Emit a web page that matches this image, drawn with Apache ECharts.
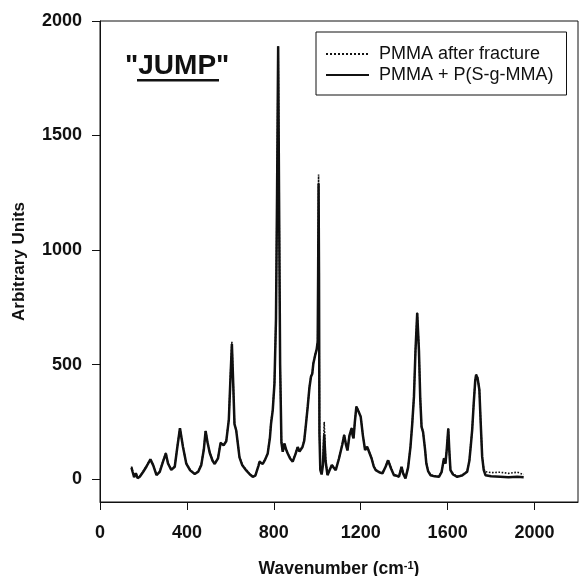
<!DOCTYPE html>
<html>
<head>
<meta charset="utf-8">
<script src="https://cdn.jsdelivr.net/npm/echarts@6/dist/echarts.min.js"></script>
<style>
html,body{margin:0;padding:0;background:#fff;}
#chart{width:579px;height:576px;}
</style>
</head>
<body>
<div id="chart"></div>
<script>
// Wavenumber positions (cm-1)
var wavenumbers = [145,150,157,165,173,183,199,214,232,245,260,275,290,303,313,328,344,356,368,382,397,415,436,452,466,478,486,495,505,518,528,543,555,569,581,593,600,607,613,619,627,635,642,655,673,690,703,715,722,730,734,742,749,760,772,782,787,795,803,810,815,820,824,829,835,841,849,856,864,875,887,900,910,918,925,932,940,948,956,964,971,977,982,990,997,1002,1004,1006,1008,1010,1014,1020,1026,1032,1038,1047,1057,1067,1076,1085,1100,1115,1124,1132,1139,1148,1158,1163,1167,1173,1180,1190,1200,1210,1220,1230,1239,1250,1260,1269,1285,1300,1315,1326,1340,1353,1365,1376,1388,1395,1406,1418,1429,1437,1445,1452,1460,1468,1474,1480,1487,1491,1496,1502,1510,1521,1540,1560,1572,1583,1590,1596,1603,1608,1613,1625,1644,1665,1690,1700,1707,1713,1720,1727,1731,1738,1746,1752,1759,1766,1774,1800,1842,1880,1920,1950];
// PMMA + P(S-g-MMA) (solid)
var blendValues = [50,32,8,26,4,10,32,55,86,60,17,32,76,112,68,40,54,140,222,140,68,38,22,32,61,130,210,160,115,80,66,90,158,148,165,260,430,590,420,240,212,150,95,60,38,20,10,15,22,60,76,68,66,85,112,180,240,300,418,700,1250,1890,1250,500,160,119,155,130,112,90,76,110,140,120,118,140,168,240,316,400,447,460,505,540,565,600,900,1290,900,200,40,20,60,195,80,17,40,61,50,39,90,150,192,150,125,190,222,190,178,250,316,295,272,190,127,140,148,90,55,39,30,25,55,82,45,17,15,10,54,25,3,50,141,240,360,560,725,560,350,228,205,200,130,68,35,17,12,10,30,90,68,130,220,120,39,20,10,15,32,80,150,215,330,430,455,440,390,250,97,40,17,12,10,8,10,8];
// PMMA after fracture (dotted)
var fractureValues = [55,34,10,28,6,12,34,57,88,62,19,34,78,115,70,42,56,142,225,142,70,40,24,34,63,132,212,162,117,82,68,92,160,150,167,262,440,600,425,242,214,152,97,62,40,22,12,17,24,62,78,70,68,87,114,185,250,305,420,705,1255,1890,1255,505,162,121,157,132,114,92,78,112,142,122,120,142,170,242,318,402,449,462,507,542,567,602,920,1330,920,210,45,25,70,250,90,20,42,63,52,41,92,152,194,152,127,192,224,192,180,252,318,297,274,192,129,142,150,92,57,41,32,27,57,84,47,19,17,12,56,27,5,52,143,242,362,562,728,562,352,230,207,202,132,70,37,19,14,12,32,92,70,132,222,122,41,22,12,17,34,82,152,217,332,432,458,442,392,252,100,45,32,28,30,25,30,20];

var seriesNames = ['PMMA after fracture', 'PMMA + P(S-g-MMA)'];
var xTicks = [0,400,800,1200,1600,2000];
var yTicks = [0,500,1000,1500,2000];
var titleText = '"JUMP"';

function pairs(xs, ys){ return xs.map(function(x,i){ return [x, ys[i]]; }); }
function plain(v){ return String(v); }

var FONT = 'Liberation Sans, Arial, Helvetica, sans-serif';
var chart = echarts.init(document.getElementById('chart'), null, {renderer:'canvas'});
chart.setOption({
  backgroundColor:'#fff',
  animation:false,
  grid:{left:100, right:1, top:21, bottom:74, containLabel:false, outerBoundsMode:'none',
    show:true, borderColor:'#111', borderWidth:1, backgroundColor:'transparent'},
  legend:{
    orient:'vertical', left:316, top:32,
    borderColor:'#111', borderWidth:1, borderRadius:0,
    padding:[13,13,11,9], itemGap:3, itemWidth:43, itemHeight:14,
    itemStyle:{color:'rgba(0,0,0,0)', borderWidth:0, opacity:0},
    textStyle:{fontFamily:FONT, fontSize:18, color:'#111', padding:[0,0,0,5]},
    data:seriesNames
  },
  graphic:[
    {type:'text', left:125, top:52, style:{text:titleText, font:'bold 28px ' + FONT, fill:'#111'}},
    {type:'rect', shape:{x:137, y:79, width:82, height:2.5}, style:{fill:'#111'}}
  ],
  xAxis:{
    type:'value', min:0, max:2200,
    name:'Wavenumber (cm{sup|-1})', nameLocation:'middle', nameGap:58,
    nameTextStyle:{fontFamily:FONT, fontSize:17.5, fontWeight:'bold', color:'#111',
      rich:{sup:{fontFamily:FONT, fontSize:11, fontWeight:'bold', color:'#111', verticalAlign:'top', padding:[0,0,6,0]}}},
    axisLine:{show:true, onZero:false, lineStyle:{color:'#111', width:1}},
    axisTick:{show:true, inside:false, length:8, lineStyle:{color:'#111'}, customValues:xTicks},
    axisLabel:{fontFamily:FONT, fontSize:18, fontWeight:'bold', color:'#111', margin:22, customValues:xTicks, formatter:plain},
    splitLine:{show:false}
  },
  yAxis:{
    type:'value', min:-100, max:2000,
    name:'Arbitrary Units', nameLocation:'middle', nameGap:72,
    nameTextStyle:{fontFamily:FONT, fontSize:17, fontWeight:'bold', color:'#111'},
    axisLine:{show:true, onZero:false, lineStyle:{color:'#111', width:1}},
    axisTick:{show:true, inside:false, length:8, lineStyle:{color:'#111'}, customValues:yTicks},
    axisLabel:{fontFamily:FONT, fontSize:18, fontWeight:'bold', color:'#111', margin:18, customValues:yTicks, formatter:plain},
    splitLine:{show:false}
  },
  series:[
    {name:seriesNames[0], type:'line', data:pairs(wavenumbers, fractureValues), symbol:'none',
      lineStyle:{color:'#111', width:1.6, type:'dotted'}, itemStyle:{color:'#111'}, z:3},
    {name:seriesNames[1], type:'line', data:pairs(wavenumbers, blendValues), symbol:'none',
      lineStyle:{color:'#111', width:2.5, type:'solid'}, itemStyle:{color:'#111'}, z:2}
  ]
});
</script>
</body>
</html>
